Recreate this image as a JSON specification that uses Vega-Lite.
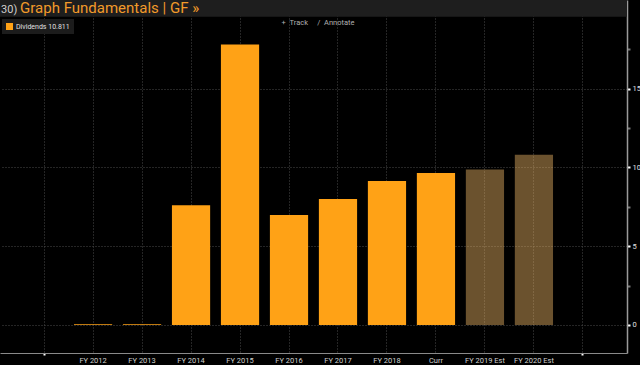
{
  "$schema": "https://vega.github.io/schema/vega-lite/v6.json",
  "autosize": "none",
  "width": 627,
  "height": 353,
  "padding": {"left": 0, "top": 0, "right": 13, "bottom": 12},
  "background": "#000000",
  "config": {"view": {"stroke": null}, "font": "Roboto"},
  "layer": [
    {
      "data": {"values": [
        {"period": "FY 2012", "dividends": 0.04, "series": "Dividends 10.811"},
        {"period": "FY 2013", "dividends": 0.04, "series": "Dividends 10.811"},
        {"period": "FY 2014", "dividends": 7.6, "series": "Dividends 10.811"},
        {"period": "FY 2015", "dividends": 17.8, "series": "Dividends 10.811"},
        {"period": "FY 2016", "dividends": 6.98, "series": "Dividends 10.811"},
        {"period": "FY 2017", "dividends": 8.0, "series": "Dividends 10.811"},
        {"period": "FY 2018", "dividends": 9.14, "series": "Dividends 10.811"},
        {"period": "Curr", "dividends": 9.65, "series": "Dividends 10.811"},
        {"period": "FY 2019 Est", "dividends": 9.87, "series": "Estimate"},
        {"period": "FY 2020 Est", "dividends": 10.811, "series": "Estimate"}
      ]},
      "mark": {"type": "bar"},
      "encoding": {
        "x": {
          "field": "period", "type": "nominal", "sort": null,
          "scale": {
            "domain": ["a", "FY 2012", "FY 2013", "FY 2014", "FY 2015", "FY 2016", "FY 2017", "FY 2018", "Curr", "FY 2019 Est", "FY 2020 Est", "b"],
            "paddingInner": 0.22, "paddingOuter": 0.51
          },
          "axis": {
            "orient": "bottom", "title": null, "labelAngle": 0,
            "labelExpr": "datum.value == 'a' || datum.value == 'b' ? '' : datum.value",
            "labelFontSize": 7.5, "labelColor": "#d0d0d0",
            "labelPadding": 1,
            "domainColor": "#8a8a8a", "domainWidth": 1,
            "ticks": true, "tickSize": 2, "tickWidth": 2,
            "tickColor": {"condition": {"test": "datum.value == 'a' || datum.value == 'b'", "value": "#ffffff"}, "value": "transparent"},
            "grid": true, "gridColor": "#4a4a4a", "gridDash": [1, 2], "gridWidth": 1,
            "bandPosition": 0.5
          }
        },
        "y": {
          "field": "dividends", "type": "quantitative",
          "scale": {"domain": [-1.78, 20.63], "nice": false, "zero": false},
          "axis": {
            "orient": "right", "title": null,
            "values": [0, 2.5, 5, 7.5, 10, 12.5, 15, 17.5],
            "labelExpr": "datum.value % 5 === 0 ? datum.label : ''",
            "labelFontSize": 7.5, "labelColor": "#e0e0e0",
            "labelPadding": 2,
            "domainColor": "#9a9a9a", "domainWidth": 1.5,
            "tickSize": 3, "tickWidth": 2,
            "tickColor": {"condition": {"test": "datum.value % 5 === 0", "value": "#ffffff"}, "value": "#777777"},
            "grid": true, "gridColor": "#4a4a4a", "gridDash": [1, 2],
            "gridOpacity": {"condition": {"test": "datum.value % 5 === 0", "value": 1}, "value": 0}
          }
        },
        "color": {
          "field": "series", "type": "nominal",
          "scale": {"domain": ["Dividends 10.811", "Estimate"], "range": ["#FFA216", "rgba(255,196,110,0.42)"]},
          "legend": {
            "values": ["Dividends 10.811"], "title": null,
            "orient": "none", "legendX": 2, "legendY": 19,
            "fillColor": "#1c1c1c", "padding": 4,
            "symbolType": "square", "symbolSize": 49, "symbolStrokeWidth": 0,
            "labelFontSize": 7, "labelColor": "#e0e0e0",
            "labelOffset": 3
          }
        }
      }
    },
    {
      "data": {"values": [{"part": "header"}]},
      "mark": {"type": "rect", "color": "#1e1e1e"},
      "encoding": {
        "y": {"datum": 19.56, "type": "quantitative"},
        "y2": {"datum": 20.8}
      }
    },
    {
      "data": {"values": [{"label": "30)"}]},
      "mark": {"type": "text", "align": "left", "baseline": "alphabetic", "dx": -43, "fontSize": 11, "color": "#cfcfcf", "font": "Roboto"},
      "encoding": {
        "x": {"datum": "a", "type": "nominal"},
        "y": {"datum": 19.8, "type": "quantitative"},
        "text": {"field": "label"}
      }
    },
    {
      "data": {"values": [{"label": "Graph Fundamentals | GF »"}]},
      "mark": {"type": "text", "align": "left", "baseline": "alphabetic", "dx": -24, "fontSize": 15, "color": "#F29A2A", "font": "Roboto"},
      "encoding": {
        "x": {"datum": "a", "type": "nominal"},
        "y": {"datum": 19.78, "type": "quantitative"},
        "text": {"field": "label"}
      }
    },
    {
      "data": {"values": [{"label": "+\u00a0\u00a0Track\u00a0\u00a0\u00a0\u00a0\u00a0/\u00a0\u00a0Annotate"}]},
      "mark": {"type": "text", "align": "center", "baseline": "alphabetic", "dx": 29, "fontSize": 7.5, "color": "#b0b0b0", "font": "Roboto"},
      "encoding": {
        "x": {"datum": "FY 2016", "type": "nominal"},
        "y": {"datum": 19.05, "type": "quantitative"},
        "text": {"field": "label"}
      }
    }
  ]
}
